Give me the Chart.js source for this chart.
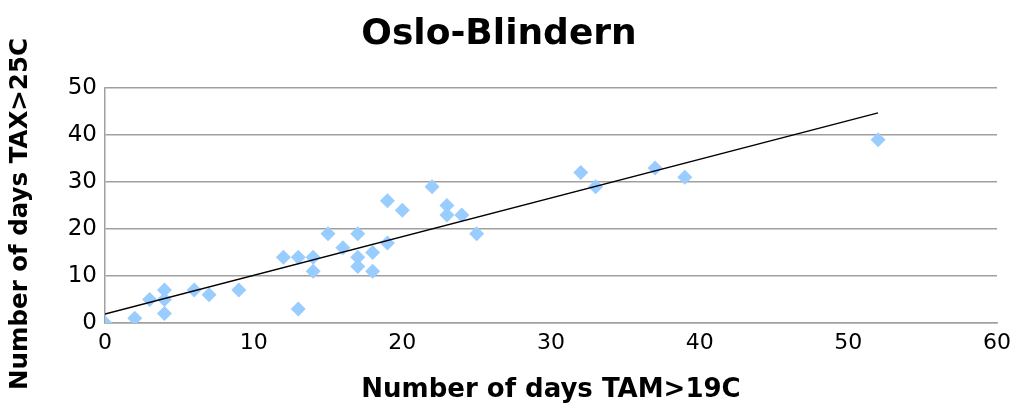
<!DOCTYPE html>
<html><head><meta charset="utf-8">
<script src="https://cdn.jsdelivr.net/npm/chart.js@4.4.1/dist/chart.umd.min.js"></script>
<style>html,body{margin:0;padding:0;background:#fff}#wrap{width:1018px;height:406px}</style>
</head><body><div id="wrap"><canvas id="c" width="1018" height="406"></canvas></div>
<script>
const tamDays = [0,2,3,4,4,4,6,7,9,12,13,13,14,14,15,16,17,17,17,18,18,19,19,20,22,23,23,24,25,32,33,37,39,52];
const taxDays = [0,1,5,7,5,2,7,6,7,14,14,3,14,11,19,16,19,14,12,15,11,26,17,24,29,25,23,23,19,32,29,33,31,39];
const trendX = [0,52];
const trendY = [1.9,44.7];
const xTicks = [0,10,20,30,40,50,60];
const yTicks = [0,10,20,30,40,50];

const pts = tamDays.map((x,i)=>({x, y: taxDays[i]}));
const trend = trendX.map((x,i)=>({x, y: trendY[i]}));
const F = "'DejaVu Sans',sans-serif";

new Chart(document.getElementById('c'), {
  type: 'scatter',
  data: { datasets: [
    { data: pts, pointStyle: 'rectRot', pointRadius: 7.5, pointHoverRadius: 7.5, backgroundColor: '#99ccff', borderColor: '#99ccff', borderWidth: 0, order: 2 },
    { type: 'line', data: trend, borderColor: '#000', borderWidth: 1.4, pointRadius: 0, fill: false, order: 1 }
  ]},
  options: {
    responsive: false, animation: false, devicePixelRatio: 1,
    layout: { padding: { left: 0, right: 20, top: 0, bottom: 0 } },
    plugins: {
      legend: { display: false }, tooltip: { enabled: false },
      title: { display: true, text: 'Oslo-Blindern', color: '#000', font: { family: F, size: 36, weight: 'bold' }, padding: { top: 13, bottom: 31.8 } }
    },
    scales: {
      x: {
        type: 'linear', min: 0, max: 60,
        afterBuildTicks: s => { s.ticks = xTicks.map(v=>({value:v})); },
        afterFit: s => { s.height = 83; },
        grid: { display: false, drawTicks: false },
        border: { display: true, color: '#a0a0a0', width: 1.5 },
        ticks: { color: '#000', font: { family: F, size: 22 }, padding: 7 },
        title: { display: true, text: 'Number of days TAM>19C', color: '#000', font: { family: F, size: 26, weight: 'bold' }, padding: { top: 0, bottom: 0 } }
      },
      y: {
        type: 'linear', min: 0, max: 50,
        afterBuildTicks: s => { s.ticks = yTicks.map(v=>({value:v})); },
        afterFit: s => { s.width = 105; },
        grid: { color: '#a0a0a0', lineWidth: 1.5, drawTicks: false },
        border: { display: true, color: '#a0a0a0', width: 1.5 },
        ticks: { color: '#000', font: { family: F, size: 23 }, padding: 8 },
        title: { display: true, text: 'Number of days TAX>25C  ', color: '#000', font: { family: F, size: 24.5, weight: 'bold' }, padding: { top: 6, bottom: 4 } }
      }
    }
  }
});
</script></body></html>
